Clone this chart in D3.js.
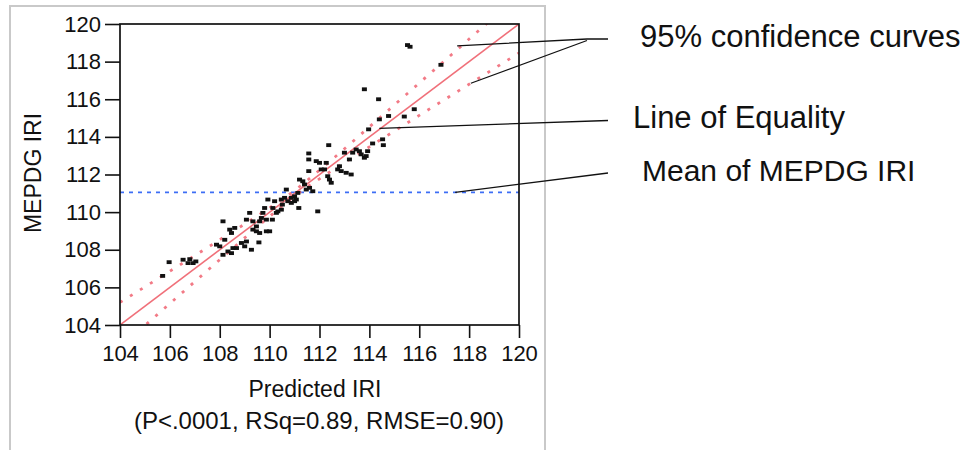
<!DOCTYPE html>
<html>
<head>
<meta charset="utf-8">
<script src="https://cdn.jsdelivr.net/npm/d3@7"></script>
<style>
  html, body { margin: 0; padding: 0; background: #fff; }
  svg { display: block; font-family: "Liberation Sans", Arial, sans-serif; }
</style>
</head>
<body>
<svg id="chart" width="967" height="450"></svg>
<script>
// ─── Data ────────────────────────────────────────────────────────────────────

const ticks = [104, 106, 108, 110, 112, 114, 116, 118, 120];

// Predicted IRI (x) and MEPDG IRI (y)
const predicted = [
  105.71, 105.97, 106.53, 106.73, 106.80, 106.93, 107.04, 107.87, 108.13, 108.00,
  108.20, 108.13, 108.33, 108.40, 108.47, 108.60, 108.53, 108.67, 108.87, 109.00,
  109.27, 109.07, 109.20, 109.33, 109.33, 109.47, 109.47, 109.60, 109.57, 109.67,
  109.73, 109.80, 109.87, 110.00, 109.87, 109.93, 110.11, 110.13, 110.20, 110.33,
  110.47, 110.51, 110.60, 110.67, 110.73, 110.87, 111.00, 111.07, 111.13, 111.17,
  111.20, 111.40, 111.47, 111.60, 111.57, 111.57, 111.57, 111.87, 112.00, 111.93,
  112.07, 112.20, 112.27, 112.33, 112.40, 112.47, 112.37, 112.73, 112.80, 112.87,
  113.00, 113.07, 113.27, 113.20, 113.47, 113.60, 113.67, 113.80, 113.93, 113.80,
  113.97, 114.13, 114.37, 114.40, 114.53, 114.56, 114.77, 115.40, 115.80, 115.53,
  115.63, 116.87, 111.73, 111.33, 110.47, 110.27, 109.07, 108.47, 109.60, 110.87,
  111.00, 113.87, 113.33
];
const mepdg = [
  106.61, 107.34, 107.47, 107.29, 107.50, 107.29, 107.38, 108.27, 109.51, 108.18,
  108.53, 107.73, 107.91, 109.07, 108.89, 109.16, 108.09, 108.09, 108.36, 108.18,
  108.00, 109.60, 109.96, 109.51, 109.07, 109.24, 108.98, 108.89, 108.39, 109.69,
  109.96, 110.22, 108.98, 108.98, 109.60, 110.67, 109.60, 110.22, 110.58, 110.04,
  110.13, 110.40, 110.76, 111.20, 110.58, 110.76, 110.84, 110.67, 111.02, 110.22,
  111.73, 111.47, 111.20, 111.29, 112.18, 112.80, 113.12, 112.71, 112.62, 110.04,
  112.27, 112.27, 112.62, 111.91, 111.73, 111.56, 113.56, 112.27, 112.44, 112.18,
  113.16, 112.09, 112.00, 112.80, 113.33, 113.24, 113.07, 112.89, 113.24, 116.53,
  114.40, 113.65, 116.00, 114.93, 113.87, 113.56, 115.11, 115.08, 115.47, 118.88,
  118.79, 117.83, 111.11, 111.64, 110.67, 109.96, 108.44, 107.82, 109.51, 110.49,
  110.58, 112.98, 113.16
];

const meanIRI = 111.05;

// 95% confidence curves, sampled from the plot
const bandX     = [104, 106, 108, 110, 111, 112, 114, 116, 118, 120];
const bandUpper = [105.20, 106.86, 108.53, 110.23, 111.15, 112.23, 114.53, 116.86, 119.20, 121.54];
const bandLower = [102.80, 105.14, 107.47, 109.77, 110.85, 111.77, 113.47, 115.14, 116.80, 118.46];

const xTitle = 'Predicted IRI';
const yTitle = 'MEPDG IRI';
const subTitle = '(P<.0001, RSq=0.89, RMSE=0.90)';

// ─── Layout ──────────────────────────────────────────────────────────────────

const svg = d3.select('#chart');
const plot = { left: 120, right: 519, top: 24, bottom: 325 };
const font = '"Liberation Sans", Arial, sans-serif';

const x = d3.scaleLinear().domain([104, 120]).range([plot.left, plot.right]);
const y = d3.scaleLinear().domain([104, 120]).range([plot.bottom, plot.top]);

// outer panel frame
svg.append('rect')
  .attr('x', 10).attr('y', 6)
  .attr('width', 535).attr('height', 470)
  .attr('fill', 'none')
  .attr('stroke', '#c9c9c9')
  .attr('stroke-width', 2);

svg.append('clipPath').attr('id', 'clip')
  .append('rect')
  .attr('x', plot.left).attr('y', plot.top)
  .attr('width', plot.right - plot.left).attr('height', plot.bottom - plot.top);

const g = svg.append('g').attr('clip-path', 'url(#clip)');

// ─── Reference lines ─────────────────────────────────────────────────────────

g.append('line')
  .attr('x1', x(104)).attr('x2', x(120))
  .attr('y1', y(meanIRI)).attr('y2', y(meanIRI))
  .attr('stroke', '#3d6ef5')
  .attr('stroke-width', 1.7)
  .attr('stroke-dasharray', '4,5');

const band = (vals) => d3.line()
  .x((d, i) => x(bandX[i]))
  .y(d => y(d))
  .curve(d3.curveMonotoneX)(vals);

g.selectAll('.band')
  .data([bandUpper, bandLower])
  .join('path')
  .attr('class', 'band')
  .attr('d', band)
  .attr('fill', 'none')
  .attr('stroke', '#f27a86')
  .attr('stroke-width', 2.8)
  .attr('stroke-dasharray', '3,8.8');

g.append('line')
  .attr('x1', x(104)).attr('y1', y(104))
  .attr('x2', x(120)).attr('y2', y(120))
  .attr('stroke', '#f0707a')
  .attr('stroke-width', 1.6);

// ─── Points ──────────────────────────────────────────────────────────────────

g.selectAll('.pt')
  .data(predicted.map((p, i) => [p, mepdg[i]]))
  .join('rect')
  .attr('class', 'pt')
  .attr('x', d => x(d[0]) - 2.5)
  .attr('y', d => y(d[1]) - 1.9)
  .attr('width', 5)
  .attr('height', 3.8)
  .attr('fill', '#111');

// ─── Frame and axes ──────────────────────────────────────────────────────────

svg.append('rect')
  .attr('x', plot.left).attr('y', plot.top)
  .attr('width', plot.right - plot.left).attr('height', plot.bottom - plot.top)
  .attr('fill', 'none')
  .attr('stroke', '#111')
  .attr('stroke-width', 1.7);

const styleAxis = sel => {
  sel.select('.domain').remove();
  sel.selectAll('line').attr('stroke', '#111').attr('stroke-width', 1.6);
  sel.selectAll('text')
    .attr('fill', '#111')
    .style('font-family', font)
    .style('font-size', '22px');
};

svg.append('g')
  .attr('transform', `translate(0,${plot.bottom})`)
  .call(d3.axisBottom(x).tickValues(ticks).tickSize(13).tickPadding(7).tickFormat(d3.format('d')))
  .call(styleAxis);

svg.append('g')
  .attr('transform', `translate(${plot.left},0)`)
  .call(d3.axisLeft(y).tickValues(ticks).tickSize(15).tickPadding(4).tickFormat(d3.format('d')))
  .call(styleAxis);

// ─── Titles ──────────────────────────────────────────────────────────────────

svg.append('text')
  .attr('x', 315).attr('y', 397)
  .attr('text-anchor', 'middle')
  .attr('fill', '#111')
  .style('font-family', font).style('font-size', '23px')
  .text(xTitle);

svg.append('text')
  .attr('x', 319).attr('y', 429)
  .attr('text-anchor', 'middle')
  .attr('fill', '#111')
  .style('font-family', font).style('font-size', '24px')
  .text(subTitle);

svg.append('text')
  .attr('transform', 'translate(41,173) rotate(-90)')
  .attr('text-anchor', 'middle')
  .attr('fill', '#111')
  .style('font-family', font).style('font-size', '23px')
  .text(yTitle);

// ─── Annotations ─────────────────────────────────────────────────────────────

const notes = [
  { text: '95% confidence curves', tx: 640, ty: 47, size: 31 },
  { text: 'Line of Equality',      tx: 633, ty: 128, size: 31 },
  { text: 'Mean of MEPDG IRI',     tx: 642, ty: 181, size: 30 },
];

svg.selectAll('.note')
  .data(notes)
  .join('text')
  .attr('class', 'note')
  .attr('x', d => d.tx).attr('y', d => d.ty)
  .attr('fill', '#111')
  .style('font-family', font)
  .style('font-size', d => d.size + 'px')
  .text(d => d.text);

// leader lines: [label end (px), data target]
const leaders = [
  { from: [608, 39],    via: [587, 39],    to: [117.52, 118.84] },
  { from: [587, 40.5],  via: null,         to: [118.07, 116.85] },
  { from: [608, 120.5], via: null,         to: [114.40, 114.45] },
  { from: [608, 173],   via: null,         to: [117.44, meanIRI] },
];

svg.selectAll('.leader')
  .data(leaders)
  .join('path')
  .attr('class', 'leader')
  .attr('d', d => {
    const pts = [d.from];
    if (d.via) pts.push(d.via);
    pts.push([x(d.to[0]), y(d.to[1])]);
    return d3.line()(pts);
  })
  .attr('fill', 'none')
  .attr('stroke', '#111')
  .attr('stroke-width', 1.3);
</script>
</body>
</html>
